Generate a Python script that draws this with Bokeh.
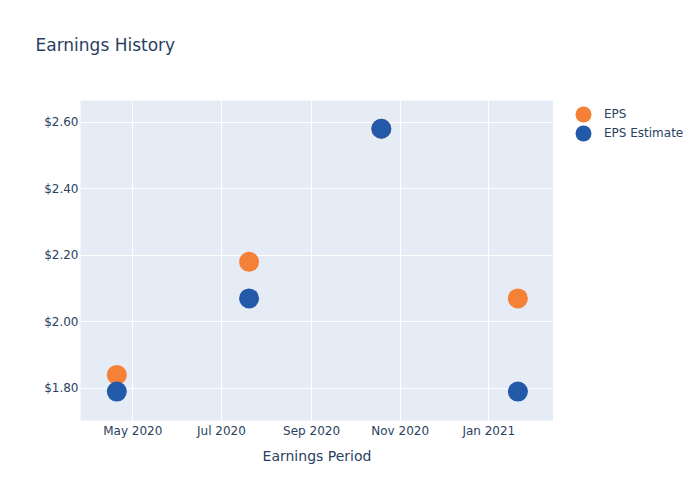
import pandas as pd
from bokeh.plotting import figure
from bokeh.layouts import column, row
from bokeh.models import (ColumnDataSource, Range1d, FixedTicker, NumeralTickFormatter,
                          DatetimeTickFormatter, Legend, LegendItem, Label)
from bokeh.embed import file_html
from bokeh.resources import INLINE

# ---- data ----
periods = ["2020-04-20", "2020-07-20", "2020-10-19", "2021-01-21"]
eps = [1.84, 2.18, 2.58, 2.07]
eps_estimate = [1.79, 2.07, 2.58, 1.79]
y_ticks = [1.8, 2.0, 2.2, 2.4, 2.6]
x_ticks = ["2020-05-01", "2020-07-01", "2020-09-01", "2020-11-01", "2021-01-01"]
x_range = ["2020-03-26", "2021-02-14 12:00"]
y_range = [1.703, 2.665]
series_names = ["EPS", "EPS Estimate"]
series_colors = ["#F58137", "#2259A9"]

FONT = "DejaVu Sans"
TXT = "#2a3f5f"

dates = pd.to_datetime(periods)
src = ColumnDataSource(dict(x=dates, eps=eps, est=eps_estimate))

def ms(s):
    return pd.Timestamp(s).value / 1e6

def bare(fig):
    fig.axis.visible = False
    fig.grid.visible = False
    fig.outline_line_color = None
    fig.background_fill_color = "white"
    fig.border_fill_color = "white"
    fig.min_border = 0

# ---- title strip ----
tfig = figure(width=700, height=100, output_backend="svg", toolbar_location=None,
              x_range=Range1d(0, 1), y_range=Range1d(0, 1))
bare(tfig)
tfig.add_layout(Label(x=35, y=56, x_units="screen", y_units="screen",
                      text="Earnings History", text_font=FONT, text_font_size="17px",
                      text_color=TXT, text_baseline="middle", text_align="left"))

# ---- main plot ----
p = figure(width=553, height=400, x_axis_type="datetime",
           x_range=Range1d(ms(x_range[0]), ms(x_range[1])),
           y_range=Range1d(*y_range),
           output_backend="svg", toolbar_location=None,
           min_border_left=80, min_border_right=0,
           min_border_top=0, min_border_bottom=80)

p.background_fill_color = "#E5ECF6"
p.border_fill_color = "white"
p.outline_line_color = None

p.scatter("x", "eps", source=src, size=20, color=series_colors[0], line_color=None)
p.scatter("x", "est", source=src, size=20, color=series_colors[1], line_color=None)

for ax in (p.xaxis[0], p.yaxis[0]):
    ax.axis_line_color = None
    ax.major_tick_line_color = None
    ax.minor_tick_line_color = None
    ax.major_tick_out = 0
    ax.major_tick_in = 0
    ax.major_label_text_font = FONT
    ax.major_label_text_font_size = "12px"
    ax.major_label_text_color = TXT

p.xaxis.ticker = FixedTicker(ticks=[ms(t) for t in x_ticks])
p.xaxis.formatter = DatetimeTickFormatter(months="%b %Y", days="%b %Y", years="%b %Y")
p.xaxis.major_label_standoff = 3
p.xaxis.axis_label = "Earnings Period"
p.xaxis.axis_label_text_font = FONT
p.xaxis.axis_label_text_font_size = "14px"
p.xaxis.axis_label_text_font_style = "normal"
p.xaxis.axis_label_text_color = TXT
p.xaxis.axis_label_standoff = 7

p.yaxis.ticker = FixedTicker(ticks=y_ticks)
p.yaxis.formatter = NumeralTickFormatter(format="$0.00")
p.yaxis.major_label_standoff = 2

p.xgrid.ticker = p.xaxis.ticker
p.ygrid.ticker = p.yaxis.ticker
p.grid.grid_line_color = "white"
p.grid.grid_line_width = 1

# ---- legend panel (its renderers lie outside its own ranges, so only the legend shows) ----
lfig = figure(width=147, height=400, output_backend="svg", toolbar_location=None,
              x_range=Range1d(0, 1), y_range=Range1d(0, 1))
bare(lfig)
lfig.min_border_bottom = 80
l_eps = lfig.scatter("x", "eps", source=src, size=20, color=series_colors[0], line_color=None)
l_est = lfig.scatter("x", "est", source=src, size=20, color=series_colors[1], line_color=None)

for name, rend, ypos in zip(series_names, [l_eps, l_est], [286, 267]):
    lg = Legend(items=[LegendItem(label=name, renderers=[rend])],
                location=(10, ypos), orientation="vertical",
                glyph_width=40, glyph_height=40, label_height=40, spacing=0,
                padding=0, margin=0, label_standoff=1,
                label_text_font=FONT, label_text_font_size="12px", label_text_color=TXT,
                background_fill_alpha=0, border_line_color=None)
    lfig.add_layout(lg)

layout = column(tfig, row(p, lfig, spacing=0), spacing=0)
open("out.html", "w").write(file_html(layout, INLINE))
